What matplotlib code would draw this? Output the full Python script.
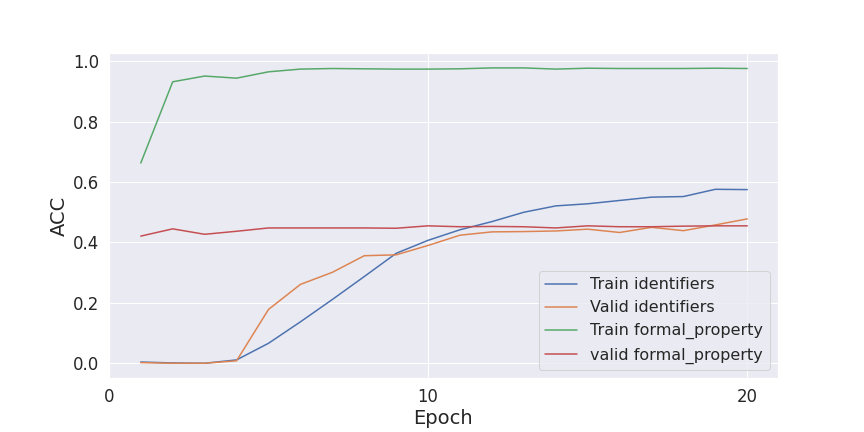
import numpy as np
import matplotlib
matplotlib.use("Agg")
import matplotlib.pyplot as plt
import seaborn as sns

sns.set_theme(font_scale=1.5)

# Accuracy per epoch
epochs = list(range(1, 21))
train_ident = [0.004, 0.001, 0.000, 0.011, 0.066, 0.137, 0.211, 0.287, 0.364, 0.407,
               0.442, 0.469, 0.500, 0.521, 0.528, 0.539, 0.550, 0.552, 0.576, 0.575]
valid_ident = [0.002, 0.000, 0.000, 0.008, 0.178, 0.261, 0.301, 0.356, 0.359, 0.390,
               0.424, 0.435, 0.436, 0.438, 0.444, 0.433, 0.450, 0.439, 0.458, 0.478]
train_formal = [0.663, 0.932, 0.951, 0.944, 0.965, 0.974, 0.976, 0.975, 0.974, 0.974,
                0.975, 0.978, 0.978, 0.974, 0.977, 0.976, 0.976, 0.976, 0.977, 0.976]
valid_formal = [0.421, 0.445, 0.427, 0.437, 0.448, 0.448, 0.448, 0.448, 0.447, 0.455,
                0.452, 0.453, 0.452, 0.448, 0.455, 0.452, 0.452, 0.454, 0.455, 0.455]

fig, ax = plt.subplots(figsize=(12, 6), dpi=72)
fig.subplots_adjust(left=0.126, right=0.9, top=0.877, bottom=0.125)

ax.plot(epochs, train_ident, label="Train identifiers")
ax.plot(epochs, valid_ident, label="Valid identifiers")
ax.plot(epochs, train_formal, label="Train formal_property")
ax.plot(epochs, valid_formal, label="valid formal_property")

ax.set_xlabel("Epoch", fontsize=19.5)
ax.set_ylabel("ACC", fontsize=19.5)
ax.set_xticks([0, 10, 20])
ax.legend(loc="lower right", fontsize=16)

fig.savefig("out.png", dpi=72)
